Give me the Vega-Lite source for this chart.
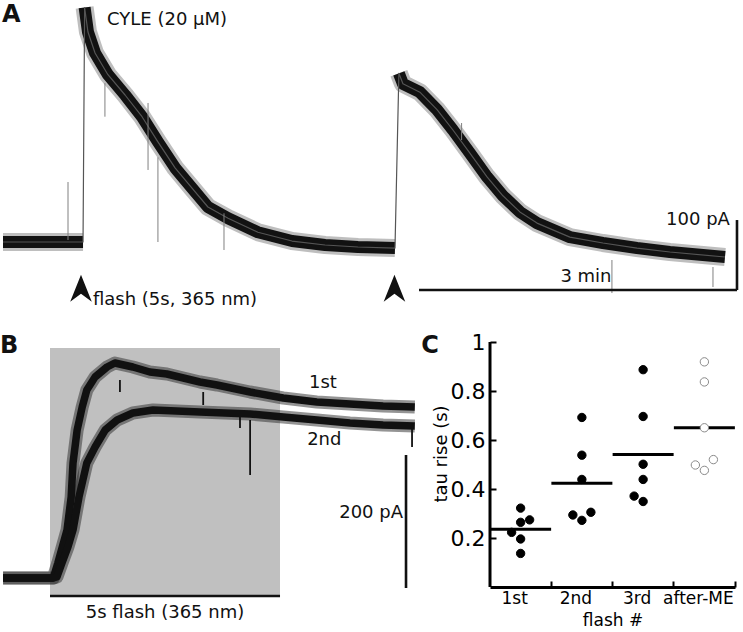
{
  "$schema": "https://vega.github.io/schema/vega-lite/v6.json",
  "padding": 0,
  "background": "white",
  "spacing": 0,
  "bounds": "flush",
  "config": {
    "font": "DejaVu Sans",
    "view": {"stroke": null},
    "axis": {"grid": false}
  },
  "datasets": {
    "one": [{}],
    "traceA": [
      {"t": 0, "pA": 0, "segment": "baseline"},
      {"t": 45.3, "pA": 0, "segment": "baseline"},
      {"t": 46.2, "pA": 335, "segment": "response 1"},
      {"t": 48.1, "pA": 300, "segment": "response 1"},
      {"t": 52.1, "pA": 270, "segment": "response 1"},
      {"t": 59.4, "pA": 239, "segment": "response 1"},
      {"t": 69.1, "pA": 210, "segment": "response 1"},
      {"t": 78.7, "pA": 179, "segment": "response 1"},
      {"t": 87.7, "pA": 143, "segment": "response 1"},
      {"t": 97.4, "pA": 106, "segment": "response 1"},
      {"t": 107.0, "pA": 77, "segment": "response 1"},
      {"t": 116.0, "pA": 50, "segment": "response 1"},
      {"t": 127.4, "pA": 34, "segment": "response 1"},
      {"t": 144.3, "pA": 14, "segment": "response 1"},
      {"t": 163.6, "pA": 1.4, "segment": "response 1"},
      {"t": 182.3, "pA": -4.3, "segment": "response 1"},
      {"t": 200.9, "pA": -7.1, "segment": "response 1"},
      {"t": 221.9, "pA": -8.6, "segment": "response 1"},
      {"t": 224.1, "pA": 241, "segment": "response 2"},
      {"t": 226.4, "pA": 226, "segment": "response 2"},
      {"t": 236.0, "pA": 214, "segment": "response 2"},
      {"t": 245.7, "pA": 189, "segment": "response 2"},
      {"t": 254.7, "pA": 160, "segment": "response 2"},
      {"t": 264.3, "pA": 127, "segment": "response 2"},
      {"t": 274.0, "pA": 93, "segment": "response 2"},
      {"t": 283.0, "pA": 66, "segment": "response 2"},
      {"t": 292.6, "pA": 43, "segment": "response 2"},
      {"t": 302.3, "pA": 27, "segment": "response 2"},
      {"t": 320.9, "pA": 7, "segment": "response 2"},
      {"t": 339.6, "pA": -1.4, "segment": "response 2"},
      {"t": 358.9, "pA": -8.6, "segment": "response 2"},
      {"t": 377.5, "pA": -14.3, "segment": "response 2"},
      {"t": 408.7, "pA": -21.4, "segment": "response 2"}
    ],
    "spikesA": [
      {"t": 36.8, "from": 85.7, "to": 2.9},
      {"t": 57.7, "from": 227, "to": 179},
      {"t": 82.1, "from": 198.6, "to": 102.9},
      {"t": 87.7, "from": 121, "to": 0},
      {"t": 125.1, "from": 41, "to": -11.4},
      {"t": 259.6, "from": 170, "to": 145.7},
      {"t": 344.7, "from": -25.7, "to": -72.9},
      {"t": 401.9, "from": -35.7, "to": -64.3}
    ],
    "flashesA": [
      {"flash": 1, "t": 44.15},
      {"flash": 2, "t": 221.6}
    ],
    "traceB": [
      {"t": -1.02, "pA": 0, "flash": "1st"},
      {"t": 0.07, "pA": 0, "flash": "1st"},
      {"t": 0.17, "pA": 22.5, "flash": "1st"},
      {"t": 0.37, "pA": 72, "flash": "1st"},
      {"t": 0.46, "pA": 121.5, "flash": "1st"},
      {"t": 0.50, "pA": 172.5, "flash": "1st"},
      {"t": 0.59, "pA": 222, "flash": "1st"},
      {"t": 0.70, "pA": 256.5, "flash": "1st"},
      {"t": 0.80, "pA": 282, "flash": "1st"},
      {"t": 0.98, "pA": 301.5, "flash": "1st"},
      {"t": 1.24, "pA": 316.5, "flash": "1st"},
      {"t": 1.41, "pA": 322.5, "flash": "1st"},
      {"t": 1.80, "pA": 316.5, "flash": "1st"},
      {"t": 2.17, "pA": 309, "flash": "1st"},
      {"t": 2.54, "pA": 306, "flash": "1st"},
      {"t": 3.26, "pA": 294, "flash": "1st"},
      {"t": 3.63, "pA": 289.5, "flash": "1st"},
      {"t": 4.35, "pA": 279, "flash": "1st"},
      {"t": 5.07, "pA": 270, "flash": "1st"},
      {"t": 5.80, "pA": 264, "flash": "1st"},
      {"t": 6.52, "pA": 261, "flash": "1st"},
      {"t": 7.24, "pA": 258, "flash": "1st"},
      {"t": 7.93, "pA": 256.5, "flash": "1st"},
      {"t": -1.02, "pA": 0, "flash": "2nd"},
      {"t": 0.07, "pA": 0, "flash": "2nd"},
      {"t": 0.15, "pA": 1.5, "flash": "2nd"},
      {"t": 0.26, "pA": 22.5, "flash": "2nd"},
      {"t": 0.39, "pA": 46.5, "flash": "2nd"},
      {"t": 0.50, "pA": 72, "flash": "2nd"},
      {"t": 0.63, "pA": 121.5, "flash": "2nd"},
      {"t": 0.80, "pA": 172.5, "flash": "2nd"},
      {"t": 0.98, "pA": 196.5, "flash": "2nd"},
      {"t": 1.20, "pA": 222, "flash": "2nd"},
      {"t": 1.46, "pA": 237, "flash": "2nd"},
      {"t": 1.80, "pA": 247.5, "flash": "2nd"},
      {"t": 2.24, "pA": 252, "flash": "2nd"},
      {"t": 3.26, "pA": 249, "flash": "2nd"},
      {"t": 4.35, "pA": 246, "flash": "2nd"},
      {"t": 5.07, "pA": 241.5, "flash": "2nd"},
      {"t": 5.80, "pA": 237, "flash": "2nd"},
      {"t": 6.52, "pA": 232.5, "flash": "2nd"},
      {"t": 7.24, "pA": 229.5, "flash": "2nd"},
      {"t": 7.93, "pA": 228, "flash": "2nd"}
    ],
    "spikesB": [
      {"t": 1.52, "from": 297, "to": 279},
      {"t": 3.33, "from": 279, "to": 259.5},
      {"t": 4.13, "from": 241.5, "to": 225},
      {"t": 4.35, "from": 237, "to": 154.5},
      {"t": 7.87, "from": 226.5, "to": 196.5}
    ],
    "flashB": [
      {"start": 0, "end": 5}
    ],
    "tauRise": [
      {"flash": "1st", "tau": 0.322, "jitter": 0},
      {"flash": "1st", "tau": 0.264, "jitter": 0},
      {"flash": "1st", "tau": 0.274, "jitter": 1},
      {"flash": "1st", "tau": 0.223, "jitter": -1},
      {"flash": "1st", "tau": 0.196, "jitter": 0},
      {"flash": "1st", "tau": 0.137, "jitter": 0},
      {"flash": "2nd", "tau": 0.692, "jitter": 0},
      {"flash": "2nd", "tau": 0.538, "jitter": 0},
      {"flash": "2nd", "tau": 0.439, "jitter": 0},
      {"flash": "2nd", "tau": 0.294, "jitter": -1},
      {"flash": "2nd", "tau": 0.272, "jitter": 0},
      {"flash": "2nd", "tau": 0.305, "jitter": 1},
      {"flash": "3rd", "tau": 0.887, "jitter": 0},
      {"flash": "3rd", "tau": 0.696, "jitter": 0},
      {"flash": "3rd", "tau": 0.501, "jitter": 0},
      {"flash": "3rd", "tau": 0.439, "jitter": 0},
      {"flash": "3rd", "tau": 0.371, "jitter": -1},
      {"flash": "3rd", "tau": 0.349, "jitter": 0},
      {"flash": "after-ME", "tau": 0.919, "jitter": 0},
      {"flash": "after-ME", "tau": 0.837, "jitter": 0},
      {"flash": "after-ME", "tau": 0.650, "jitter": 0},
      {"flash": "after-ME", "tau": 0.498, "jitter": -1},
      {"flash": "after-ME", "tau": 0.476, "jitter": 0},
      {"flash": "after-ME", "tau": 0.520, "jitter": 1}
    ]
  },
  "vconcat": [
    {
      "width": 743,
      "height": 320,
      "layer": [
        {
          "data": {"name": "traceA"},
          "mark": {"type": "line", "strokeWidth": 18, "color": "#6e6e6e", "opacity": 0.45, "strokeCap": "butt", "strokeJoin": "round", "clip": true},
          "encoding": {
            "x": {"field": "t", "type": "quantitative", "scale": {"domain": [-1.7, 418.9], "nice": false, "zero": false}, "axis": null},
            "y": {"field": "pA", "type": "quantitative", "scale": {"domain": [-111.4, 345.7], "nice": false, "zero": false}, "axis": null},
            "detail": {"field": "segment"}
          }
        },
        {
          "data": {"name": "traceA"},
          "mark": {"type": "line", "strokeWidth": 12, "color": "#121212", "strokeCap": "butt", "strokeJoin": "round", "clip": true},
          "encoding": {
            "x": {"field": "t", "type": "quantitative", "axis": null},
            "y": {"field": "pA", "type": "quantitative", "axis": null},
            "detail": {"field": "segment"}
          }
        },
        {
          "data": {"name": "traceA"},
          "mark": {"type": "line", "strokeWidth": 1.2, "color": "#555555", "strokeJoin": "round", "clip": true},
          "encoding": {
            "x": {"field": "t", "type": "quantitative", "axis": null},
            "y": {"field": "pA", "type": "quantitative", "axis": null}
          }
        },
        {
          "data": {"name": "spikesA"},
          "mark": {"type": "rule", "strokeWidth": 1, "color": "#808080"},
          "encoding": {
            "x": {"field": "t", "type": "quantitative", "axis": null},
            "y": {"field": "from", "type": "quantitative", "axis": null},
            "y2": {"field": "to"}
          }
        },
        {
          "data": {"name": "flashesA"},
          "mark": {"type": "point", "shape": "M0,-1L0.8,1L0,0.4L-0.8,1Z", "size": 729, "filled": true, "color": "#111111", "opacity": 1},
          "encoding": {
            "x": {"field": "t", "type": "quantitative", "axis": null},
            "y": {"datum": -66.1, "type": "quantitative", "axis": null}
          }
        },
        {
          "data": {"name": "one"},
          "mark": {"type": "rule", "strokeWidth": 2.6, "color": "#111111"},
          "encoding": {
            "x": {"datum": 235.5, "type": "quantitative", "axis": null},
            "x2": {"datum": 415.5},
            "y": {"datum": -68.6, "type": "quantitative", "axis": null}
          }
        },
        {
          "data": {"name": "one"},
          "mark": {"type": "rule", "strokeWidth": 2.6, "color": "#111111"},
          "encoding": {
            "x": {"datum": 415.5, "type": "quantitative", "axis": null},
            "y": {"datum": 31.4, "type": "quantitative", "axis": null},
            "y2": {"datum": -68.6}
          }
        },
        {
          "data": {"name": "one"},
          "mark": {"type": "text", "text": "A", "align": "left", "baseline": "alphabetic", "fontSize": 24, "fontWeight": "bold", "color": "#111111"},
          "encoding": {
            "x": {"datum": -0.6, "type": "quantitative", "axis": null},
            "y": {"datum": 314.3, "type": "quantitative", "axis": null}
          }
        },
        {
          "data": {"name": "one"},
          "mark": {"type": "text", "text": "CYLE (20 µM)", "align": "left", "baseline": "middle", "fontSize": 18, "color": "#111111"},
          "encoding": {
            "x": {"datum": 58.9, "type": "quantitative", "axis": null},
            "y": {"datum": 317, "type": "quantitative", "axis": null}
          }
        },
        {
          "data": {"name": "one"},
          "mark": {"type": "text", "text": "flash (5s, 365 nm)", "align": "left", "baseline": "middle", "fontSize": 18, "color": "#111111"},
          "encoding": {
            "x": {"datum": 50.9, "type": "quantitative", "axis": null},
            "y": {"datum": -82.9, "type": "quantitative", "axis": null}
          }
        },
        {
          "data": {"name": "one"},
          "mark": {"type": "text", "text": "3 min", "align": "center", "baseline": "middle", "fontSize": 18, "color": "#111111"},
          "encoding": {
            "x": {"datum": 330, "type": "quantitative", "axis": null},
            "y": {"datum": -50, "type": "quantitative", "axis": null}
          }
        },
        {
          "data": {"name": "one"},
          "mark": {"type": "text", "text": "100 pA", "align": "right", "baseline": "middle", "fontSize": 18, "color": "#111111"},
          "encoding": {
            "x": {"datum": 411.5, "type": "quantitative", "axis": null},
            "y": {"datum": 31.4, "type": "quantitative", "axis": null}
          }
        }
      ]
    },
    {
      "hconcat": [
        {
          "width": 420,
          "height": 289,
          "layer": [
            {
              "data": {"name": "flashB"},
              "mark": {"type": "rect", "color": "#c0c0c0"},
              "encoding": {
                "x": {"field": "start", "type": "quantitative", "scale": {"domain": [-1.087, 8.043], "nice": false, "zero": false}, "axis": null},
                "x2": {"field": "end"},
                "y": {"datum": -27, "type": "quantitative", "scale": {"domain": [-46.5, 387], "nice": false, "zero": false}, "axis": null},
                "y2": {"datum": 345}
              }
            },
            {
              "data": {"name": "flashB"},
              "mark": {"type": "rule", "strokeWidth": 2.4, "color": "#111111"},
              "encoding": {
                "x": {"field": "start", "type": "quantitative", "axis": null},
                "x2": {"field": "end"},
                "y": {"datum": -27, "type": "quantitative", "axis": null}
              }
            },
            {
              "data": {"name": "traceB"},
              "mark": {"type": "line", "strokeWidth": 13, "color": "#2a2a2a", "opacity": 0.5, "strokeJoin": "round", "clip": true},
              "encoding": {
                "x": {"field": "t", "type": "quantitative", "axis": null},
                "y": {"field": "pA", "type": "quantitative", "axis": null},
                "detail": {"field": "flash"}
              }
            },
            {
              "data": {"name": "traceB"},
              "mark": {"type": "line", "strokeWidth": 7.5, "color": "#111111", "strokeJoin": "round", "clip": true},
              "encoding": {
                "x": {"field": "t", "type": "quantitative", "axis": null},
                "y": {"field": "pA", "type": "quantitative", "axis": null},
                "detail": {"field": "flash"}
              }
            },
            {
              "data": {"name": "spikesB"},
              "mark": {"type": "rule", "strokeWidth": 1.8, "color": "#111111"},
              "encoding": {
                "x": {"field": "t", "type": "quantitative", "axis": null},
                "y": {"field": "from", "type": "quantitative", "axis": null},
                "y2": {"field": "to"}
              }
            },
            {
              "data": {"name": "one"},
              "mark": {"type": "rule", "strokeWidth": 2.6, "color": "#111111"},
              "encoding": {
                "x": {"datum": 7.739, "type": "quantitative", "axis": null},
                "y": {"datum": 184.5, "type": "quantitative", "axis": null},
                "y2": {"datum": -15}
              }
            },
            {
              "data": {"name": "one"},
              "mark": {"type": "text", "text": "B", "align": "left", "baseline": "alphabetic", "fontSize": 24, "fontWeight": "bold", "color": "#111111"},
              "encoding": {
                "x": {"datum": -1.087, "type": "quantitative", "axis": null},
                "y": {"datum": 337.5, "type": "quantitative", "axis": null}
              }
            },
            {
              "data": {"name": "one"},
              "mark": {"type": "text", "text": "C", "align": "left", "baseline": "alphabetic", "fontSize": 24, "fontWeight": "bold", "color": "#111111"},
              "encoding": {
                "x": {"datum": 8.07, "type": "quantitative", "axis": null},
                "y": {"datum": 337.5, "type": "quantitative", "axis": null}
              }
            },
            {
              "data": {"name": "one"},
              "mark": {"type": "text", "text": "1st", "align": "left", "baseline": "middle", "fontSize": 18, "color": "#111111"},
              "encoding": {
                "x": {"datum": 5.63, "type": "quantitative", "axis": null},
                "y": {"datum": 292.5, "type": "quantitative", "axis": null}
              }
            },
            {
              "data": {"name": "one"},
              "mark": {"type": "text", "text": "2nd", "align": "left", "baseline": "middle", "fontSize": 18, "color": "#111111"},
              "encoding": {
                "x": {"datum": 5.59, "type": "quantitative", "axis": null},
                "y": {"datum": 207.7, "type": "quantitative", "axis": null}
              }
            },
            {
              "data": {"name": "one"},
              "mark": {"type": "text", "text": "200 pA", "align": "right", "baseline": "middle", "fontSize": 18, "color": "#111111"},
              "encoding": {
                "x": {"datum": 7.674, "type": "quantitative", "axis": null},
                "y": {"datum": 97.5, "type": "quantitative", "axis": null}
              }
            },
            {
              "data": {"name": "one"},
              "mark": {"type": "text", "text": "5s flash (365 nm)", "align": "center", "baseline": "middle", "fontSize": 18, "color": "#111111"},
              "encoding": {
                "x": {"datum": 2.5, "type": "quantitative", "axis": null},
                "y": {"datum": -52.5, "type": "quantitative", "axis": null}
              }
            }
          ]
        },
        {
          "width": 245,
          "height": 267,
          "data": {"name": "tauRise"},
          "layer": [
            {
              "data": {"name": "one"},
              "mark": {"type": "rule", "strokeWidth": 3, "color": "#000000"},
              "encoding": {
                "x": {
                  "datum": "1st", "type": "nominal", "bandPosition": 0,
                  "scale": {"domain": ["1st", "2nd", "3rd", "after-ME"], "paddingInner": 0, "paddingOuter": 0},
                  "axis": {
                    "title": "flash #", "bandPosition": 1, "labelOffset": -6, "labelAngle": 0,
                    "labelFontSize": 17, "labelColor": "#000000", "titleFontSize": 17, "titleFontWeight": "normal", "titleColor": "#000000",
                    "domainColor": "#000000", "domainWidth": 3, "tickColor": "#000000", "tickWidth": 2, "tickSize": -6, "labelPadding": 9, "titlePadding": 6
                  }
                },
                "y": {
                  "datum": 0, "type": "quantitative",
                  "scale": {"domain": [0, 1.0898], "nice": false, "zero": true},
                  "axis": {
                    "title": "tau rise (s)", "values": [0.2, 0.4, 0.6, 0.8, 1], "format": "~g", "domain": false,
                    "labelFontSize": 22, "labelColor": "#000000", "titleFontSize": 18, "titleFontWeight": "normal", "titleColor": "#000000",
                    "tickColor": "#000000", "tickWidth": 2, "tickSize": -6, "labelPadding": 11, "titlePadding": 0
                  }
                },
                "y2": {"datum": 1}
              }
            },
            {
              "mark": {"type": "tick", "orient": "horizontal", "thickness": 3, "size": 61, "color": "#000000"},
              "encoding": {
                "x": {"field": "flash", "type": "nominal"},
                "y": {"aggregate": "mean", "field": "tau", "type": "quantitative"}
              }
            },
            {
              "mark": {"type": "point", "filled": true, "size": 70, "strokeWidth": 1, "opacity": 1},
              "encoding": {
                "x": {"field": "flash", "type": "nominal"},
                "xOffset": {"field": "jitter", "type": "quantitative", "scale": {"domain": [-3.4, 3.4]}},
                "y": {"field": "tau", "type": "quantitative"},
                "fill": {"field": "flash", "type": "nominal", "scale": {"domain": ["1st", "2nd", "3rd", "after-ME"], "range": ["#000000", "#000000", "#000000", "#ffffff"]}, "legend": null},
                "stroke": {"field": "flash", "type": "nominal", "scale": {"domain": ["1st", "2nd", "3rd", "after-ME"], "range": ["#000000", "#000000", "#000000", "#8a8a8a"]}, "legend": null}
              }
            }
          ]
        }
      ],
      "spacing": 70,
      "bounds": "flush"
    }
  ]
}
